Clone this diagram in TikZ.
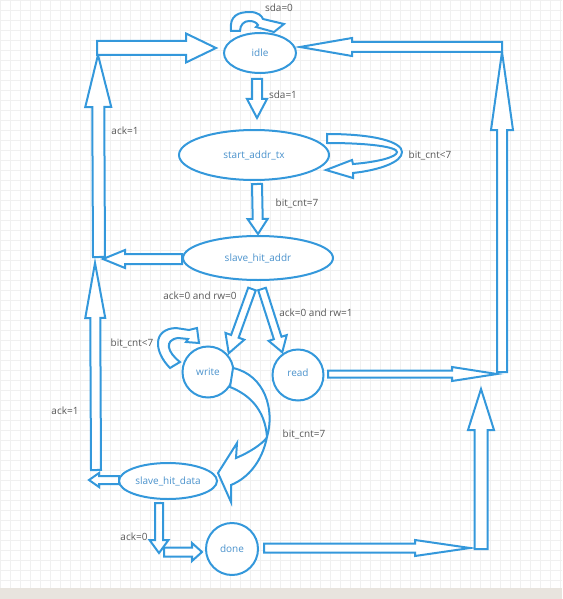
\documentclass[tikz,border=0pt]{standalone}
\usepackage{fontspec}
\setmainfont{Open Sans}
\usepackage{tikz}
\usetikzlibrary{shapes.geometric, calc}
\definecolor{lineBlue}{RGB}{52, 152, 219}
\definecolor{textBlue}{RGB}{74, 146, 204}
\definecolor{labelGray}{RGB}{88, 88, 88}
\definecolor{gridGray}{RGB}{240, 240, 240}
\definecolor{barBeige}{RGB}{232, 228, 222}
% hollow block arrow: shaft half width, head half width, head length, from, to
\newcommand{\fatarrow}[5]{%
  \coordinate (fa-a) at (#4);
  \coordinate (fa-b) at (#5);
  \coordinate (fa-n) at ($(fa-b)!#3pt!(fa-a)$);
  \draw[fat] ($(fa-a)!#1pt!90:(fa-b)$) -- ($(fa-n)!#1pt!-90:(fa-a)$) -- ($(fa-n)!#2pt!-90:(fa-a)$)
    -- (fa-b) -- ($(fa-n)!#2pt!90:(fa-a)$) -- ($(fa-n)!#1pt!90:(fa-a)$) -- ($(fa-a)!#1pt!-90:(fa-b)$) -- cycle;}

\begin{document}
\begin{tikzpicture}[x=1pt, y=-1pt,
        state/.style={ellipse, draw=lineBlue, line width=2pt, fill=white, inner sep=0pt, text=textBlue, font=\fontsize{10}{12}\selectfont},
        ring/.style={state, circle},
        fat/.style={draw=lineBlue, line width=2pt, fill=white, line join=miter},
        lbl/.style={text=labelGray, font=\fontsize{10}{12}\selectfont}]

        \useasboundingbox (0,0) rectangle (562,599);

        % Fondo
        \draw[gridGray, line width=0.5pt, xstep=10pt, ystep=10pt] (0,0) grid (562,588);
        \fill[barBeige] (0,588) rectangle (562,599);

        % Estados
        \node[state, minimum width=72pt, minimum height=40pt] (idle) at (260,53) {idle};
        \node[state, minimum width=150pt, minimum height=50pt] (start) at (254,155) {start\_addr\_tx};
        \node[state, minimum width=150pt, minimum height=44pt] (addr) at (258,258) {slave\_hit\_addr};
        \node[ring, minimum size=51pt] (write) at (208,372) {write};
        \node[ring, minimum size=51pt] (read) at (298,375) {\raisebox{5pt}{read}};
        \node[state, minimum width=98pt, minimum height=36pt] (sdata) at (168,481) {slave\_hit\_data};
        \node[ring, minimum size=52pt] (done) at (232,549) {done};

        % Esquinas
        \coordinate (c1) at (98,48);
        \coordinate (c2) at (98,258);
        \coordinate (c3) at (95,480);
        \coordinate (c4) at (502,48);
        \coordinate (c5) at (502,374);
        \coordinate (c6) at (481,549);
        \coordinate (c7) at (159,552);

        % Flechas rectas
        \fatarrow{5}{10}{19}{$(idle.south)+(-3,5)$}{$(start.north)+(3,-11)$}
        \fatarrow{5}{10}{15}{$(start.south)+(3,3)$}{$(addr.north)+(0,-1)$}
        \fatarrow{5}{9}{22}{$(addr.west)+(0,1)$}{$(c2)+(5,1)$}
        \fatarrow{6}{13}{52}{$(c2)+(1,-1)$}{$(c1)+(0,7)$}
        \fatarrow{7}{14.5}{30}{$(c1)+(-1,0)$}{$(idle.west)+(-7,-5)$}
        \fatarrow{4}{10}{18}{$(addr.south)+(-6,8)$}{$(write.45)+(2,0)$}
        \fatarrow{4}{9.5}{15}{$(addr.south)+(4,8)$}{$(read.135)+(3,-4)$}
        \fatarrow{3.5}{7}{45}{$(read.east)+(3.5,-1)$}{$(c5)+(-5,0)$}
        \fatarrow{5}{11}{78}{$(c5)+(0,-2)$}{$(c4)+(0,4)$}
        \fatarrow{5}{9}{52}{$(c4)+(0,-1)$}{$(idle.east)+(3,-6)$}
        \fatarrow{5}{10}{55}{$(c3)+(1,-10)$}{$(c2)+(-3,5)$}
        \fatarrow{4}{7}{10}{$(sdata.west)+(1,-1)$}{$(c3)+(-6,0)$}
        \fatarrow{4}{9.5}{13}{$(sdata.south)+(-9,3)$}{$(c7)+(0,1)$}
        \fatarrow{4.5}{9}{10}{$(c7)+(5,0)$}{$(done.west)+(-3,3)$}
        \fatarrow{4.5}{8}{55}{$(done.east)+(5,-1)$}{$(c6)+(-11,-1)$}
        \fatarrow{6.5}{13}{41}{c6}{$(c5)+(-21,15)$}

        % Flechas curvas
        \draw[fat] (231,31) .. controls (229,15) and (239,12) .. (250,12) .. controls (258,12) and (262,16) .. (263,19)
            -- (284,24) -- (274,32) -- (256,27) -- (258,25) .. controls (256,22) and (253,21) .. (249,21)
            .. controls (244,21) and (240,25) .. (240,31) -- cycle;
        \draw[fat] (327,134) .. controls (375,134) and (402,142) .. (402,152) .. controls (402,162) and (380,170) .. (353,173)
            -- (353,178) -- (326,170) -- (352,160) -- (353,164) .. controls (378,162) and (397,157) .. (397,152)
            .. controls (397,147) and (370,143) .. (327,143) -- cycle;
        \draw[fat] (170,368) .. controls (154,352) and (152,329) .. (176,328) -- (189,330) -- (197,328) -- (199,343)
            -- (186,342) -- (188,339) -- (178,338) .. controls (164,340) and (167,352) .. (180,362) -- cycle;
        \draw[fat] (233,368) .. controls (265,375) and (275,410) .. (267,437) .. controls (262,462) and (248,478) .. (231,485)
            -- (231,502) -- (218,473) -- (237,443) -- (236,458) .. controls (255,450) and (266,440) .. (267,437)
            .. controls (265,410) and (250,395) .. (230,387) -- cycle;

        % Etiquetas
        \node[lbl] (t-sda0) at (279,8) {sda=0};
        \node[lbl] (t-sda1) at (283,95) {sda=1};
        \node[lbl] (t-bit1) at (430,155) {bit\_cnt<7};
        \node[lbl] (t-bit2) at (297,203) {bit\_cnt=7};
        \node[lbl] (t-ack1) at (125,131) {ack=1};
        \node[lbl] (t-rw0) at (200,296) {ack=0 and rw=0};
        \node[lbl] (t-rw1) at (316,313) {ack=0 and rw=1};
        \node[lbl] (t-bit3) at (132,343) {bit\_cnt<7};
        \node[lbl] (t-ack2) at (65,411) {ack=1};
        \node[lbl] (t-bit4) at (304,434) {bit\_cnt=7};
        \node[lbl] (t-ack0) at (134,537) {ack=0};
    \end{tikzpicture}
\end{document}
